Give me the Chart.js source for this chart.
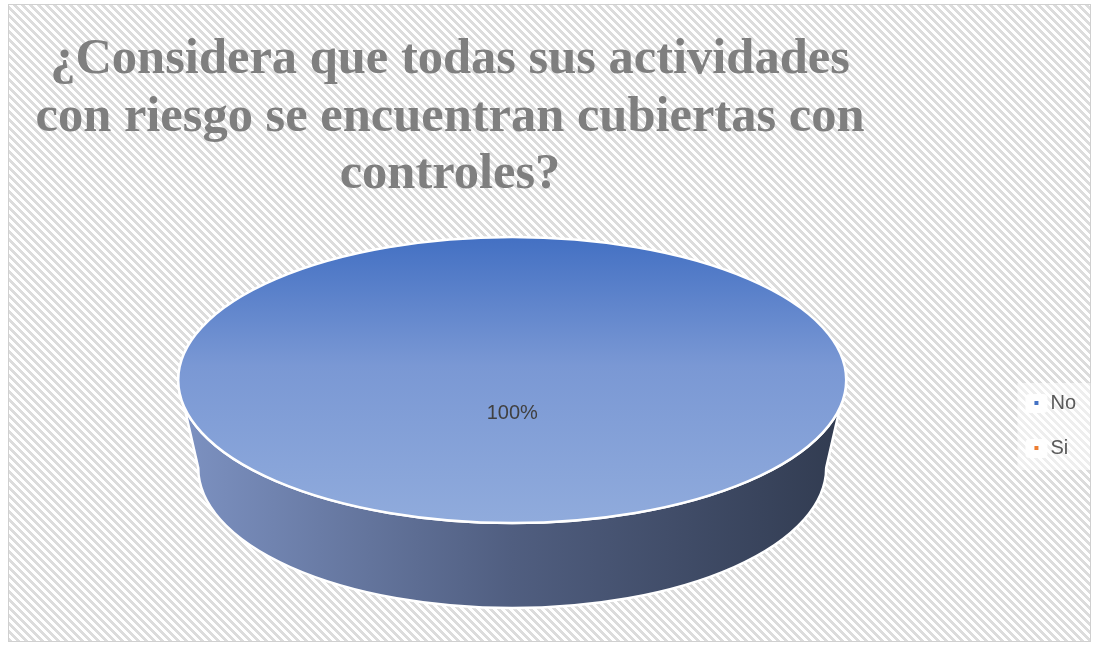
<!DOCTYPE html>
<html><head><meta charset="utf-8">
<script src="https://cdn.jsdelivr.net/npm/chart.js@4.4.1/dist/chart.umd.min.js"></script>
<style>html,body{margin:0;padding:0;background:#fff;overflow:hidden}#wrap{width:1097px;height:646px;position:relative}</style>
</head><body><div id="wrap"><canvas id="c" width="1097" height="646"></canvas></div>
<script>
// ---- data ----
const TITLE_LINES = ['¿Considera que todas sus actividades', 'con riesgo se encuentran cubiertas con', 'controles?'];
const CATEGORIES = ['No', 'Si'];
const VALUES = [100, 0];
const COLORS = ['#4472c4', '#ed7d31'];

// ---- view / style constants ----
const VIEW = { rx: 334, tilt: 0.428, lift: 45.5, depth: 88, bottomScale: 0.94, labelDrop: 33 };
const TITLE_STYLE = { font: 'bold 50.5px "Liberation Serif", "Times New Roman", serif', color: '#7f7f7f', x: 450, y0: 73, lineGap: 57.5 };

function stripePattern(ctx) {
  const t = document.createElement('canvas'); t.width = 8; t.height = 8;
  const c = t.getContext('2d');
  c.fillStyle = '#ffffff'; c.fillRect(0, 0, 8, 8);
  c.fillStyle = '#dcdcdc';
  for (let y = 0; y < 8; y++) for (let x = 0; x < 8; x++) if ((((x - y) % 8) + 8) % 8 < 4) c.fillRect(x, y, 1, 1);
  return ctx.createPattern(t, 'repeat');
}

const bgPlugin = {
  id: 'bg',
  beforeDraw(chart) {
    const ctx = chart.ctx;
    ctx.save();
    ctx.fillStyle = '#fff'; ctx.fillRect(0, 0, chart.width, chart.height);
    ctx.fillStyle = stripePattern(ctx);
    ctx.fillRect(8.5, 4.5, 1082, 637);
    ctx.strokeStyle = '#d0d0d0'; ctx.lineWidth = 1;
    ctx.strokeRect(8.5, 4.5, 1082, 637);
    // legend backdrop
    const lg = chart.legend;
    if (lg && lg.legendHitBoxes && lg.legendHitBoxes.length) {
      const hb = lg.legendHitBoxes;
      const top = hb[0].top - 10, bot = hb[hb.length - 1].top + hb[hb.length - 1].height + 12;
      ctx.fillStyle = 'rgba(255,255,255,0.5)';
      ctx.fillRect(hb[0].left - 15, top, 73, bot - top);
      ctx.fillStyle = 'rgba(255,255,255,0.9)';
      hb.forEach(h => { ctx.beginPath(); ctx.roundRect(h.left - 7, h.top + 1, 22, 19, 4); ctx.fill(); });
    }
    // title
    ctx.font = TITLE_STYLE.font; ctx.fillStyle = TITLE_STYLE.color;
    ctx.textAlign = 'center'; ctx.textBaseline = 'alphabetic';
    TITLE_LINES.forEach((l, i) => ctx.fillText(l, TITLE_STYLE.x, TITLE_STYLE.y0 + i * TITLE_STYLE.lineGap));
    ctx.restore();
  }
};

function geom(chart) {
  const arc = chart.getDatasetMeta(0).data[0];
  const p = arc.getProps(['x', 'y', 'outerRadius'], true);
  const cx = p.x, cy = p.y - VIEW.lift, rx = VIEW.rx, ry = VIEW.rx * VIEW.tilt;
  return { p, cx, cy, rx, ry };
}

const pie3d = {
  id: 'pie3d',
  beforeDatasetsDraw(chart) {
    const ctx = chart.ctx;
    const { p, cx, cy, rx, ry } = geom(chart);
    const bcy = cy + VIEW.depth, brx = rx * VIEW.bottomScale, bry = ry * 0.98;
    ctx.save();
    ctx.beginPath();
    ctx.ellipse(cx, cy, rx, ry, 0, Math.PI, 0, true);
    ctx.lineTo(cx + brx, bcy);
    ctx.ellipse(cx, bcy, brx, bry, 0, 0, Math.PI, false);
    ctx.closePath();
    const g = ctx.createLinearGradient(cx - rx, 0, cx + rx, 0);
    g.addColorStop(0, '#7d92c2');
    g.addColorStop(0.5, '#505e80');
    g.addColorStop(1, '#313b50');
    ctx.fillStyle = g; ctx.fill();
    ctx.strokeStyle = '#ffffff'; ctx.lineWidth = 2.5; ctx.stroke();
    ctx.restore();
    ctx.save();
    ctx.translate(cx, cy);
    ctx.scale(rx / p.outerRadius, ry / p.outerRadius);
    ctx.translate(-p.x, -p.y);
  },
  afterDatasetsDraw(chart) {
    const ctx = chart.ctx;
    ctx.restore();
    const { cx, cy, rx, ry } = geom(chart);
    ctx.save();
    ctx.beginPath(); ctx.ellipse(cx, cy, rx, ry, 0, 0, Math.PI * 2);
    ctx.strokeStyle = '#ffffff'; ctx.lineWidth = 2.5; ctx.stroke();
    // data label
    const total = VALUES.reduce((a, b) => a + b, 0);
    const pct = Math.round(VALUES[0] / total * 100) + '%';
    ctx.font = '20px "Liberation Sans", Arial, sans-serif';
    ctx.fillStyle = '#404040'; ctx.textAlign = 'center'; ctx.textBaseline = 'middle';
    ctx.fillText(pct, cx, cy + VIEW.labelDrop);
    ctx.restore();
  }
};

function faceFill(c) {
  const chart = c.chart, a = chart.chartArea;
  if (!a) return COLORS[c.dataIndex];
  if (c.dataIndex !== 0) return COLORS[c.dataIndex];
  const R = Math.min(a.right - a.left, a.bottom - a.top) / 2;
  const yc = (a.top + a.bottom) / 2;
  const g = chart.ctx.createLinearGradient(0, yc - R, 0, yc + R);
  g.addColorStop(0, '#4370c3');
  g.addColorStop(0.45, '#7a98d4');
  g.addColorStop(1, '#90abdc');
  return g;
}

new Chart(document.getElementById('c'), {
  type: 'pie',
  data: {
    labels: CATEGORIES,
    datasets: [{ data: VALUES, backgroundColor: faceFill, borderWidth: 0, hoverOffset: 0 }]
  },
  options: {
    responsive: false, animation: false, events: [],
    layout: { padding: { left: 17, right: 11, top: 250, bottom: 45 } },
    plugins: {
      title: { display: false },
      tooltip: { enabled: false },
      legend: {
        position: 'right',
        labels: {
          usePointStyle: true, pointStyle: 'rect', boxWidth: 8, boxHeight: 4, padding: 25,
          color: '#595959', font: { family: '"Liberation Sans", Arial, sans-serif', size: 20 },
          generateLabels: (chart) => CATEGORIES.map((t, i) => ({
            text: t, fillStyle: COLORS[i], strokeStyle: COLORS[i], lineWidth: 0,
            pointStyle: 'rect', hidden: false, index: i, fontColor: '#595959'
          }))
        }
      }
    }
  },
  plugins: [bgPlugin, pie3d]
});
</script></body></html>
